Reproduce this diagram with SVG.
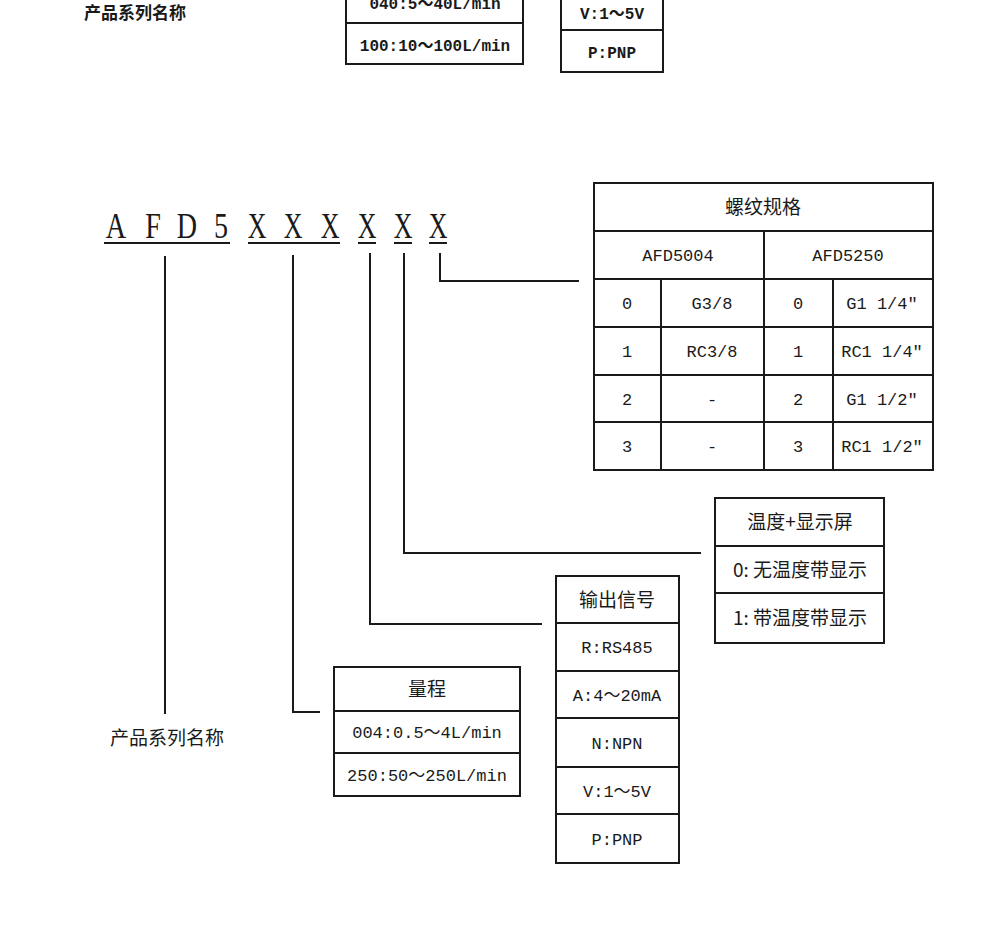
<svg xmlns="http://www.w3.org/2000/svg" width="1000" height="926" viewBox="0 0 1000 926">
<style>
.bx{fill:none;stroke:#1a1a1a;stroke-width:2}
.ln{fill:none;stroke:#1a1a1a;stroke-width:2}
.cn{fill:none;stroke:#1a1a1a;stroke-width:2}
.m{font-family:"Liberation Mono","Noto Sans CJK SC",monospace;font-size:17px;fill:#1a1a1a;text-anchor:middle}
.c{font-family:"Noto Sans CJK SC",sans-serif;font-size:19px;fill:#1a1a1a;text-anchor:middle}
.big{font-family:"Liberation Serif",serif;font-size:36px;fill:#1a1a1a;text-anchor:middle}
.b{font-weight:bold}
</style>
<rect width="1000" height="926" fill="#ffffff"/>

<g id="top-strip">
<text class="c b" x="135" y="19" style="font-size:17px">产品系列名称</text>
<path class="bx" d="M346,-2 V64 H523 V-2 M346,23 H523"/>
<text class="m b" x="435" y="9" style="font-size:16px">040:5～40L/min</text>
<text class="m b" x="435" y="51" style="font-size:16px">100:10～100L/min</text>
<path class="bx" d="M561,-2 V72 H663 V-2 M561,30 H663"/>
<text class="m b" x="612" y="19" style="font-size:16px">V:1～5V</text>
<text class="m b" x="612" y="58" style="font-size:16px">P:PNP</text>
</g>

<g id="code">
<text class="big" transform="translate(116,238) scale(0.78,1)">A</text>
<text class="big" transform="translate(153,238) scale(0.78,1)">F</text>
<text class="big" transform="translate(187,238) scale(0.78,1)">D</text>
<text class="big" transform="translate(221,238) scale(0.78,1)">5</text>
<text class="big" transform="translate(257,238) scale(0.72,1)">X</text>
<text class="big" transform="translate(293,238) scale(0.72,1)">X</text>
<text class="big" transform="translate(330,238) scale(0.72,1)">X</text>
<text class="big" transform="translate(367,238) scale(0.72,1)">X</text>
<text class="big" transform="translate(403,238) scale(0.72,1)">X</text>
<text class="big" transform="translate(438,238) scale(0.72,1)">X</text>
<path class="ln" d="M104,243 H230 M248,243 H340 M358,243 H376 M394,243 H412 M429,243 H447"/>
</g>

<g id="connectors">
<path class="cn" d="M165,256 V714"/>
<path class="cn" d="M293,255 V712 H320"/>
<path class="cn" d="M370,253 V624 H542"/>
<path class="cn" d="M404,253 V553 H701"/>
<path class="cn" d="M440,253 V281 H579"/>
</g>

<g id="series-label">
<text class="c" x="167" y="745">产品系列名称</text>
</g>

<g id="thread-table">
<rect class="bx" x="594" y="183" width="339" height="287"/>
<path class="bx" d="M594,231 H933 M594,279 H933 M594,327 H933 M594,375 H933 M594,422 H933 M764,231 V470 M661,279 V470 M833,279 V470"/>
<text class="c" x="763" y="214">螺纹规格</text>
<text class="m" x="678" y="261">AFD5004</text>
<text class="m" x="848" y="261">AFD5250</text>
<text class="m" x="627" y="309">0</text>
<text class="m" x="712" y="309">G3/8</text>
<text class="m" x="798" y="309">0</text>
<text class="m" x="882" y="309">G1 1/4″</text>
<text class="m" x="627" y="357">1</text>
<text class="m" x="712" y="357">RC3/8</text>
<text class="m" x="798" y="357">1</text>
<text class="m" x="882" y="357">RC1 1/4″</text>
<text class="m" x="627" y="405">2</text>
<text class="m" x="712" y="405">-</text>
<text class="m" x="798" y="405">2</text>
<text class="m" x="882" y="405">G1 1/2″</text>
<text class="m" x="627" y="452">3</text>
<text class="m" x="712" y="452">-</text>
<text class="m" x="798" y="452">3</text>
<text class="m" x="882" y="452">RC1 1/2″</text>
</g>

<g id="temp-display">
<rect class="bx" x="715" y="498" width="169" height="145"/>
<path class="bx" d="M715,546 H884 M715,593 H884"/>
<text class="c" x="800" y="529">温度+显示屏</text>
<text class="c" x="800" y="577">0: 无温度带显示</text>
<text class="c" x="800" y="625">1: 带温度带显示</text>
</g>

<g id="output-signal">
<rect class="bx" x="556" y="576" width="123" height="287"/>
<path class="bx" d="M556,623 H679 M556,671 H679 M556,718 H679 M556,767 H679 M556,814 H679"/>
<text class="c" x="617" y="607">输出信号</text>
<text class="m" x="617" y="653">R:RS485</text>
<text class="m" x="617" y="701">A:4～20mA</text>
<text class="m" x="617" y="749">N:NPN</text>
<text class="m" x="617" y="797">V:1～5V</text>
<text class="m" x="617" y="845">P:PNP</text>
</g>

<g id="range">
<rect class="bx" x="334" y="667" width="186" height="129"/>
<path class="bx" d="M334,711 H520 M334,753 H520"/>
<text class="c" x="427" y="696">量程</text>
<text class="m" x="427" y="738">004:0.5～4L/min</text>
<text class="m" x="427" y="781">250:50～250L/min</text>
</g>
</svg>
